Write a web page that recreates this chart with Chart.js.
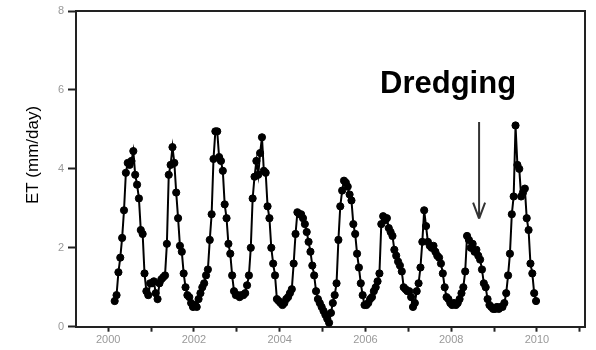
<!DOCTYPE html>
<html>
<head>
<meta charset="utf-8">
<script src="https://cdn.jsdelivr.net/npm/chart.js@4"></script>
<style>
html,body{margin:0;padding:0;background:#fff;}
#c{display:block;}
</style>
</head>
<body>
<canvas id="c" width="596" height="350"></canvas>
<script>
// ---- data (16-day ET, mm/day) ----
const years = [2000,2001,2002,2003,2004,2005,2006,2007,2008,2009];
const perYear = 23;
const firstOffset2000 = 3; // first composite shown in 2000
const et2000 = [0.65,0.8,1.38,1.75,2.25,2.95,3.9,4.15,4.1,4.2,4.45,3.85,3.6,3.25,2.45,2.35,1.35,0.9,0.8,1.1];
const et2001 = [1.1,1.15,0.85,0.7,1.1,1.2,1.25,1.3,2.1,3.85,4.1,4.55,4.15,3.4,2.75,2.05,1.9,1.35,1.0,0.8,0.75,0.6,0.5];
const et2002 = [0.55,0.5,0.7,0.85,1.0,1.1,1.3,1.45,2.2,2.85,4.25,4.95,4.95,4.3,4.2,3.95,3.1,2.75,2.1,1.85,1.3,0.9,0.8];
const et2003 = [0.8,0.75,0.8,0.8,0.85,1.05,1.3,2.0,3.25,3.8,4.2,3.85,4.4,4.8,3.95,3.9,3.05,2.75,2.0,1.6,1.3,0.7,0.65];
const et2004 = [0.6,0.55,0.6,0.7,0.75,0.85,0.95,1.6,2.35,2.9,2.85,2.85,2.75,2.6,2.4,2.15,1.9,1.55,1.3,0.9,0.7,0.6,0.5];
const et2005 = [0.4,0.3,0.2,0.1,0.35,0.6,0.8,1.1,2.2,3.05,3.45,3.7,3.65,3.55,3.35,3.2,2.6,2.35,1.85,1.5,1.1,0.8,0.55];
const et2006 = [0.55,0.6,0.7,0.75,0.9,1.0,1.15,1.35,2.6,2.8,2.7,2.75,2.5,2.4,2.3,1.95,1.8,1.65,1.55,1.4,1.0,0.95,0.9];
const et2007 = [0.9,0.75,0.5,0.6,0.9,1.1,1.5,2.15,2.95,2.55,2.15,2.05,2.0,2.05,1.9,1.8,1.75,1.6,1.35,1.0,0.75,0.7,0.6];
const et2008 = [0.55,0.6,0.55,0.6,0.7,0.85,1.0,1.4,2.3,2.2,2.0,2.1,1.9,1.95,1.8,1.7,1.45,1.1,1.0,0.7,0.55,0.5,0.45];
const et2009 = [0.45,0.5,0.45,0.5,0.5,0.6,0.85,1.3,1.85,2.85,3.3,5.1,4.1,4.0,3.3,3.4,3.5,2.75,2.45,1.6,1.35,0.85,0.65];
const etByYear = [et2000,et2001,et2002,et2003,et2004,et2005,et2006,et2007,et2008,et2009];

// ---- axes ----
const xMin = 1999.25, xMax = 2011.12;
const xTickValues = [2000,2001,2002,2003,2004,2005,2006,2007,2008,2009,2010,2011];
const xTickLabels = ['2000','','2002','','2004','','2006','','2008','','2010',''];
const yMin = 0, yMax = 8;
const yTickValues = [0,2,4,6,8];
const yTitle = 'ET (mm/day)';

// ---- annotation ----
const noteText = 'Dredging';
const noteX = 2006.34, noteY = 5.91;
const arrowX = 2008.65, arrowTop = 5.19, arrowTip = 2.74;

const points = [];
etByYear.forEach((arr, k) => {
  const off = k === 0 ? firstOffset2000 : 0;
  arr.forEach((v, i) => points.push({x: years[k] + (i + off + 0.5) / perYear, y: v}));
});

const FONT = "'Liberation Sans', Arial, Helvetica, sans-serif";
const AXIS = '#222';

const decor = {
  id: 'decor',
  afterDraw(chart) {
    const {ctx, chartArea: a, scales: {x, y}} = chart;
    ctx.save();
    ctx.strokeStyle = AXIS; ctx.lineWidth = 2;
    ctx.beginPath();
    ctx.moveTo(a.left, a.top); ctx.lineTo(a.right, a.top); ctx.lineTo(a.right, a.bottom);
    ctx.stroke();
    ctx.fillStyle = '#000';
    ctx.font = '17px ' + FONT;
    ctx.textAlign = 'center'; ctx.textBaseline = 'middle';
    ctx.translate(33, 155);
    ctx.rotate(-Math.PI / 2);
    ctx.fillText(yTitle, 0, 0);
    ctx.restore();

    ctx.save();
    ctx.fillStyle = '#000';
    ctx.font = 'bold 31px ' + FONT;
    ctx.textAlign = 'left'; ctx.textBaseline = 'alphabetic';
    ctx.fillText(noteText, x.getPixelForValue(noteX), y.getPixelForValue(noteY));
    const ax = x.getPixelForValue(arrowX);
    const y0 = y.getPixelForValue(arrowTop), y1 = y.getPixelForValue(arrowTip);
    ctx.strokeStyle = '#333'; ctx.lineWidth = 2;
    ctx.beginPath();
    ctx.moveTo(ax, y0); ctx.lineTo(ax, y1);
    ctx.moveTo(ax - 6, y1 - 16); ctx.lineTo(ax, y1);
    ctx.moveTo(ax + 6, y1 - 16); ctx.lineTo(ax, y1);
    ctx.stroke();
    ctx.restore();
  }
};

new Chart(document.getElementById('c'), {
  type: 'line',
  data: {
    datasets: [{
      data: points,
      borderColor: '#000',
      borderWidth: 2,
      backgroundColor: '#000',
      pointRadius: 3.6,
      pointBorderWidth: 1,
      pointBackgroundColor: '#000',
      pointBorderColor: '#000',
      tension: 0,
      fill: false
    }]
  },
  options: {
    responsive: false,
    animation: false,
    devicePixelRatio: 1,
    layout: {padding: {left: 0, top: 11, right: 11, bottom: 0}},
    plugins: {legend: {display: false}, tooltip: {enabled: false}},
    scales: {
      x: {
        type: 'linear', min: xMin, max: xMax,
        afterBuildTicks: s => { s.ticks = xTickValues.map(v => ({value: v})); },
        afterFit: s => { s.height = 23.3; },
        ticks: {
          autoSkip: false, maxRotation: 0, padding: 2,
          color: '#999', font: {family: FONT, size: 11},
          callback: (v, i) => xTickLabels[i]
        },
        grid: {drawOnChartArea: false, drawTicks: true, tickLength: 5, tickColor: AXIS, tickWidth: 2},
        border: {display: true, color: AXIS, width: 2}
      },
      y: {
        min: yMin, max: yMax,
        afterBuildTicks: s => { s.ticks = yTickValues.map(v => ({value: v})); },
        afterFit: s => { s.width = 76; },
        ticks: {padding: 4, color: '#999', font: {family: FONT, size: 11}},
        grid: {drawOnChartArea: false, drawTicks: true, tickLength: 8, tickColor: AXIS, tickWidth: 2},
        border: {display: true, color: AXIS, width: 2}
      }
    }
  },
  plugins: [decor]
});
</script>
</body>
</html>
